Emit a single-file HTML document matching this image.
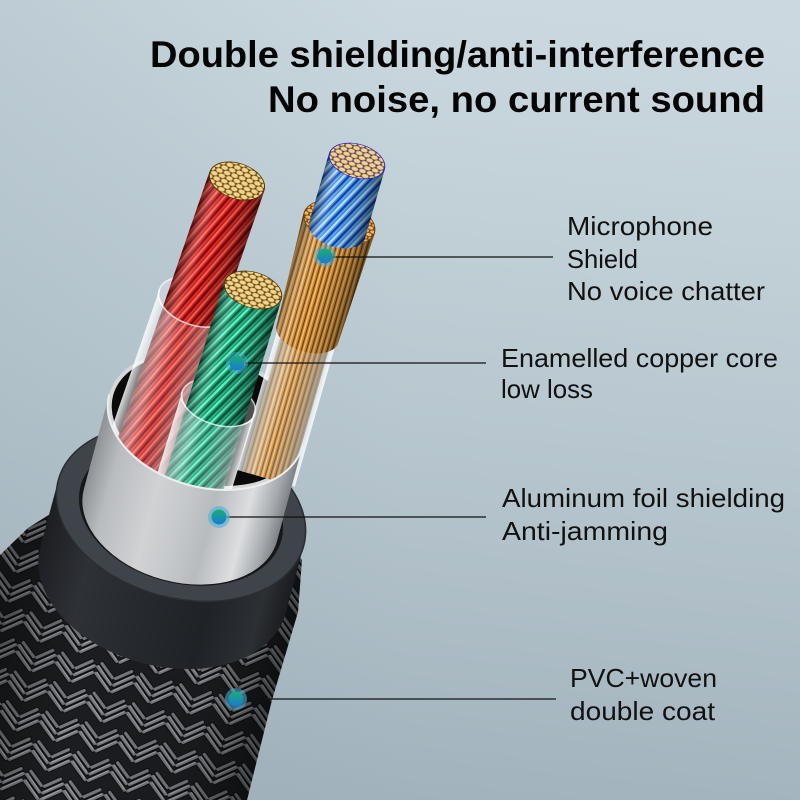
<!DOCTYPE html>
<html><head><meta charset="utf-8"><style>
html,body{margin:0;padding:0;width:800px;height:800px;overflow:hidden;background:#b8c7cf}
svg{display:block}
</style></head><body>
<svg width="800" height="800" viewBox="0 0 800 800" xmlns="http://www.w3.org/2000/svg">
<defs>
 <clipPath id="frame"><rect width="800" height="800"/></clipPath>
 <linearGradient id="bg" x1="0.55" y1="0" x2="0.45" y2="1">
  <stop offset="0" stop-color="#cbd8df"/>
  <stop offset="0.5" stop-color="#b9c8d0"/>
  <stop offset="1" stop-color="#a2b2bc"/>
 </linearGradient>
 <linearGradient id="bgL" x1="0" y1="0" x2="1" y2="0">
  <stop offset="0" stop-color="#8aa0ac" stop-opacity="0.18"/>
  <stop offset="0.5" stop-color="#8aa0ac" stop-opacity="0"/>
 </linearGradient>
 <pattern id="pRed" width="9" height="9" patternUnits="userSpaceOnUse" patternTransform="rotate(22)">
  <rect width="9" height="9" fill="#c9181b"/><rect x="0" width="2.2" height="9" fill="#ff6652"/>
  <rect x="4" width="1.6" height="9" fill="#6e0608"/><rect x="6.6" width="1" height="9" fill="#ee3a30"/>
 </pattern>
 <pattern id="pGrn" width="9" height="9" patternUnits="userSpaceOnUse" patternTransform="rotate(28)">
  <rect width="9" height="9" fill="#139a6c"/><rect x="0" width="2.2" height="9" fill="#6af5c8"/>
  <rect x="4" width="1.6" height="9" fill="#06503a"/><rect x="6.6" width="1" height="9" fill="#2fcf98"/>
 </pattern>
 <pattern id="pBlu" width="9" height="9" patternUnits="userSpaceOnUse" patternTransform="rotate(28)">
  <rect width="9" height="9" fill="#3a8de0"/><rect x="0" width="2.4" height="9" fill="#b5e2ff"/>
  <rect x="4" width="1.6" height="9" fill="#1330b0"/><rect x="6.6" width="1" height="9" fill="#6ab8f5"/>
 </pattern>
 <pattern id="pCop" width="5" height="10" patternUnits="userSpaceOnUse">
  <rect width="5" height="10" fill="#c8842e"/><rect x="0" width="1.6" height="10" fill="#f5c070"/>
  <rect x="3" width="1" height="10" fill="#6e3e10"/>
 </pattern>
 <pattern id="capP" width="8" height="13.86" patternUnits="userSpaceOnUse">
  <circle cx="0" cy="0" r="3.6" fill="#efd38f" stroke="#a27a30" stroke-width="0.7"/>
  <circle cx="8" cy="0" r="3.6" fill="#efd38f" stroke="#a27a30" stroke-width="0.7"/>
  <circle cx="4" cy="6.93" r="3.6" fill="#efd38f" stroke="#a27a30" stroke-width="0.7"/>
  <circle cx="0" cy="13.86" r="3.6" fill="#efd38f" stroke="#a27a30" stroke-width="0.7"/>
  <circle cx="8" cy="13.86" r="3.6" fill="#efd38f" stroke="#a27a30" stroke-width="0.7"/>
 </pattern>
 <pattern id="capC" width="7" height="12.1" patternUnits="userSpaceOnUse">
  <circle cx="0" cy="0" r="3.1" fill="#f0b860" stroke="#8a5518" stroke-width="0.6"/>
  <circle cx="7" cy="0" r="3.1" fill="#f0b860" stroke="#8a5518" stroke-width="0.6"/>
  <circle cx="3.5" cy="6.05" r="3.1" fill="#f0b860" stroke="#8a5518" stroke-width="0.6"/>
  <circle cx="0" cy="12.1" r="3.1" fill="#f0b860" stroke="#8a5518" stroke-width="0.6"/>
  <circle cx="7" cy="12.1" r="3.1" fill="#f0b860" stroke="#8a5518" stroke-width="0.6"/>
 </pattern>
 <linearGradient id="cyl" x1="0" y1="0" x2="1" y2="0">
  <stop offset="0" stop-color="#000" stop-opacity="0.5"/>
  <stop offset="0.25" stop-color="#fff" stop-opacity="0.14"/>
  <stop offset="0.45" stop-color="#000" stop-opacity="0"/>
  <stop offset="0.8" stop-color="#000" stop-opacity="0.25"/>
  <stop offset="1" stop-color="#000" stop-opacity="0.55"/>
 </linearGradient>
 <linearGradient id="sh" x1="0" y1="0" x2="1" y2="0">
  <stop offset="0" stop-color="#fff" stop-opacity="0.85"/>
  <stop offset="0.15" stop-color="#eef3f6" stop-opacity="0.4"/>
  <stop offset="0.5" stop-color="#eef3f6" stop-opacity="0.14"/>
  <stop offset="0.85" stop-color="#eef3f6" stop-opacity="0.4"/>
  <stop offset="1" stop-color="#fff" stop-opacity="0.85"/>
 </linearGradient>
 <pattern id="braid" width="24" height="18" patternUnits="userSpaceOnUse" patternTransform="rotate(15) scale(1.7)">
  <rect width="24" height="18" fill="#1c1d20"/>
  <g fill="none" stroke-linecap="round" stroke="#0a0a0c" stroke-width="3">
   <path d="M1,16 L11,8 M1,12 L11,4 M1,8 L9,1.5"/>
   <path d="M13,8 L23,16 M13,4 L23,12 M15,1.5 L23,8"/>
  </g>
  <g fill="none" stroke-linecap="round" stroke="#76797e" stroke-width="1.9">
   <path d="M1,16 L11,8 M1,12 L11,4 M1,8 L9,1.5"/>
   <path d="M13,8 L23,16 M13,4 L23,12 M15,1.5 L23,8"/>
  </g>
  <g fill="none" stroke-linecap="round" stroke="#a4a7ab" stroke-width="0.6">
   <path d="M1.5,15.2 L10.5,7.6 M1.5,11.2 L10.5,3.6"/>
   <path d="M13.5,7.2 L22.5,15.2 M13.5,3.2 L22.5,11.2"/>
  </g>
 </pattern>
 <linearGradient id="braidSh" gradientUnits="userSpaceOnUse" x1="-6" y1="670" x2="264" y2="742">
  <stop offset="0" stop-color="#000" stop-opacity="0.35"/>
  <stop offset="0.3" stop-color="#000" stop-opacity="0"/>
  <stop offset="0.75" stop-color="#000" stop-opacity="0.1"/>
  <stop offset="0.92" stop-color="#000" stop-opacity="0.35"/>
  <stop offset="1" stop-color="#000" stop-opacity="0.5"/>
 </linearGradient>
 <linearGradient id="jack" x1="0" y1="0" x2="1" y2="0">
  <stop offset="0" stop-color="#1c1e22"/>
  <stop offset="0.2" stop-color="#2e3136"/>
  <stop offset="0.45" stop-color="#26292d"/>
  <stop offset="0.7" stop-color="#1f2226"/>
  <stop offset="0.9" stop-color="#2c2f33"/>
  <stop offset="1" stop-color="#1a1c1f"/>
 </linearGradient>
 <linearGradient id="silv" x1="0" y1="0" x2="1" y2="0">
  <stop offset="0" stop-color="#8e9296"/>
  <stop offset="0.12" stop-color="#b9bcbf"/>
  <stop offset="0.35" stop-color="#d0d2d4"/>
  <stop offset="0.5" stop-color="#c6c9cc"/>
  <stop offset="0.65" stop-color="#b8bbbe"/>
  <stop offset="0.82" stop-color="#dcdee0"/>
  <stop offset="0.94" stop-color="#a4a8ac"/>
  <stop offset="1" stop-color="#7e8286"/>
 </linearGradient>
 <linearGradient id="dotG" x1="0" y1="0" x2="0" y2="1">
  <stop offset="0" stop-color="#18b070"/>
  <stop offset="1" stop-color="#1a78d8"/>
 </linearGradient>
</defs>

<g clip-path="url(#frame)">
<rect width="800" height="800" fill="url(#bg)"/>
<rect width="800" height="800" fill="url(#bgL)"/>

<!-- braid (absolute, within frame) -->
<path d="M0,555 L28,528 L120,470 L250,500 L302,560 L298,612 L272,700 L247,800 L0,800 Z" fill="url(#braid)"/>
<path d="M0,555 L28,528 L120,470 L250,500 L302,560 L298,612 L272,700 L247,800 L0,800 Z" fill="url(#braidSh)"/>

<!-- Cable body in jacket frame -->
<g transform="translate(181,513) rotate(15)">
 <path d="M-127,0 L-127,70 A127,85 0 0 0 127,70 L127,0 Z" fill="url(#jack)"/>
 <ellipse cx="0" cy="0" rx="127" ry="85" fill="#3f434a" stroke="#2a2d31" stroke-width="1.5"/>
 <ellipse cx="0" cy="0" rx="104" ry="70" fill="#15171a"/>
 <ellipse cx="0" cy="-96" rx="100" ry="67" fill="#d5d7d9"/>
 <ellipse cx="0" cy="-96" rx="96" ry="63" fill="#0b0a0a"/>
</g>

<!-- Red wire -->
<g transform="translate(237,181) rotate(19)">
 <ellipse cx="0" cy="128" rx="38" ry="23" fill="#eef3f6" fill-opacity="0.3" stroke="#fff" stroke-opacity="0.7" stroke-width="1.5"/>
 <path d="M-29,0 L-29,310 L29,310 L29,0 Z" fill="url(#pRed)"/>
 <path d="M-29,0 L-29,310 L29,310 L29,0 Z" fill="url(#cyl)"/>
 <path d="M-38,128 A38,23 0 0 0 38,128 L38,310 L-38,310 Z" fill="url(#sh)"/>
 <path d="M-38,128 A38,23 0 0 0 38,128" fill="none" stroke="#fff" stroke-opacity="0.75" stroke-width="1.5"/>
 <g transform="scale(1,0.62)"><circle r="29" fill="#4a3208"/><circle r="28" fill="url(#capP)"/></g>
</g>

<!-- Blue / copper wire -->
<g transform="translate(357,161) rotate(16)">
 <ellipse cx="0" cy="178" rx="30" ry="17" fill="#eef3f6" fill-opacity="0.3" stroke="#fff" stroke-opacity="0.6" stroke-width="1.2"/>
 <path d="M-25,178 L-25,330 L25,330 L25,178 Z" fill="url(#pCop)"/>
 <path d="M-25,178 L-25,330 L25,330 L25,178 Z" fill="url(#cyl)"/>
 <path d="M-30,178 A30,17 0 0 0 30,178 L30,330 L-30,330 Z" fill="url(#sh)"/>
 <path d="M-37,64 L-32,180 A32,18 0 0 0 32,180 L37,64 Z" fill="url(#pCop)"/>
 <path d="M-37,64 L-32,180 A32,18 0 0 0 32,180 L37,64 Z" fill="url(#cyl)"/>
 <g transform="translate(0,64) scale(1,0.57)"><circle r="37" fill="#6b3d0e"/><circle r="36" fill="url(#capC)"/></g>
 <path d="M-29,0 L-29,72 A29,17 0 0 0 29,72 L29,0 Z" fill="url(#pBlu)"/>
 <path d="M-29,0 L-29,72 A29,17 0 0 0 29,72 L29,0 Z" fill="url(#cyl)"/>
 <g transform="scale(1,0.59)"><circle r="29" fill="#2a1fd0"/><circle r="28" fill="url(#capP)"/></g>
</g>

<!-- Green wire -->
<g transform="translate(253,290) rotate(17)">
 <ellipse cx="0" cy="118" rx="38" ry="22" fill="#eef3f6" fill-opacity="0.3" stroke="#fff" stroke-opacity="0.7" stroke-width="1.5"/>
 <path d="M-30,0 L-30,275 L30,275 L30,0 Z" fill="url(#pGrn)"/>
 <path d="M-30,0 L-30,275 L30,275 L30,0 Z" fill="url(#cyl)"/>
 <path d="M-38,118 A38,22 0 0 0 38,118 L38,275 L-38,275 Z" fill="url(#sh)"/>
 <path d="M-38,118 A38,22 0 0 0 38,118" fill="none" stroke="#fff" stroke-opacity="0.75" stroke-width="1.5"/>
 <g transform="scale(1,0.6)"><circle r="30" fill="#4a3208"/><circle r="29" fill="url(#capP)"/></g>
</g>

<!-- Silver front face -->
<g transform="translate(181,513) rotate(15)">
 <path d="M-100,-96 A100,67 0 0 0 100,-96 L100,2 A100,67 0 0 1 -100,2 Z" fill="url(#silv)"/>
 <path d="M-100,-96 A100,67 0 0 0 100,-96" fill="none" stroke="#eceeef" stroke-width="2"/>
</g>

<!-- Connector lines -->
<g stroke="#111" stroke-width="1.2">
 <line x1="333" y1="257" x2="553" y2="257"/>
 <line x1="245" y1="363" x2="486" y2="363"/>
 <line x1="227" y1="517" x2="486" y2="517"/>
 <line x1="244" y1="699" x2="556" y2="699"/>
</g>

<!-- Dots -->
<g>
 <circle cx="325" cy="256" r="11" fill="#4fb0d8" opacity="0.5"/><circle cx="325" cy="256" r="7.5" fill="url(#dotG)"/>
 <circle cx="237" cy="363" r="11" fill="#4fb0d8" opacity="0.45"/><circle cx="237" cy="363" r="7.5" fill="url(#dotG)"/>
 <circle cx="219" cy="517" r="11" fill="#4fb0d8" opacity="0.6"/><circle cx="219" cy="517" r="7.5" fill="url(#dotG)"/>
 <circle cx="236" cy="699" r="11" fill="#4fb0d8" opacity="0.55"/><circle cx="236" cy="699" r="7.5" fill="url(#dotG)"/>
</g>

<!-- Title -->
<g font-family="'Liberation Sans', Arial, sans-serif" font-weight="bold" font-size="37" fill="#050505">
 <text x="150" y="67" textLength="615" lengthAdjust="spacingAndGlyphs">Double shielding/anti-interference</text>
 <text x="268" y="112" textLength="497" lengthAdjust="spacingAndGlyphs">No noise, no current sound</text>
</g>

<!-- Labels -->
<g font-family="'Liberation Sans', Arial, sans-serif" font-size="26" fill="#111">
 <text x="567" y="235" textLength="146" lengthAdjust="spacingAndGlyphs">Microphone</text>
 <text x="567" y="268" textLength="71" lengthAdjust="spacingAndGlyphs">Shield</text>
 <text x="567" y="300" textLength="198" lengthAdjust="spacingAndGlyphs">No voice chatter</text>
 <text x="501" y="367" textLength="277" lengthAdjust="spacingAndGlyphs">Enamelled copper core</text>
 <text x="501" y="398" textLength="92" lengthAdjust="spacingAndGlyphs">low loss</text>
 <text x="502" y="507" textLength="283" lengthAdjust="spacingAndGlyphs">Aluminum foil shielding</text>
 <text x="502" y="540" textLength="166" lengthAdjust="spacingAndGlyphs">Anti-jamming</text>
 <text x="570" y="687" textLength="147" lengthAdjust="spacingAndGlyphs">PVC+woven</text>
 <text x="570" y="720" textLength="145" lengthAdjust="spacingAndGlyphs">double coat</text>
</g>
</g>
</svg>
</body></html>
